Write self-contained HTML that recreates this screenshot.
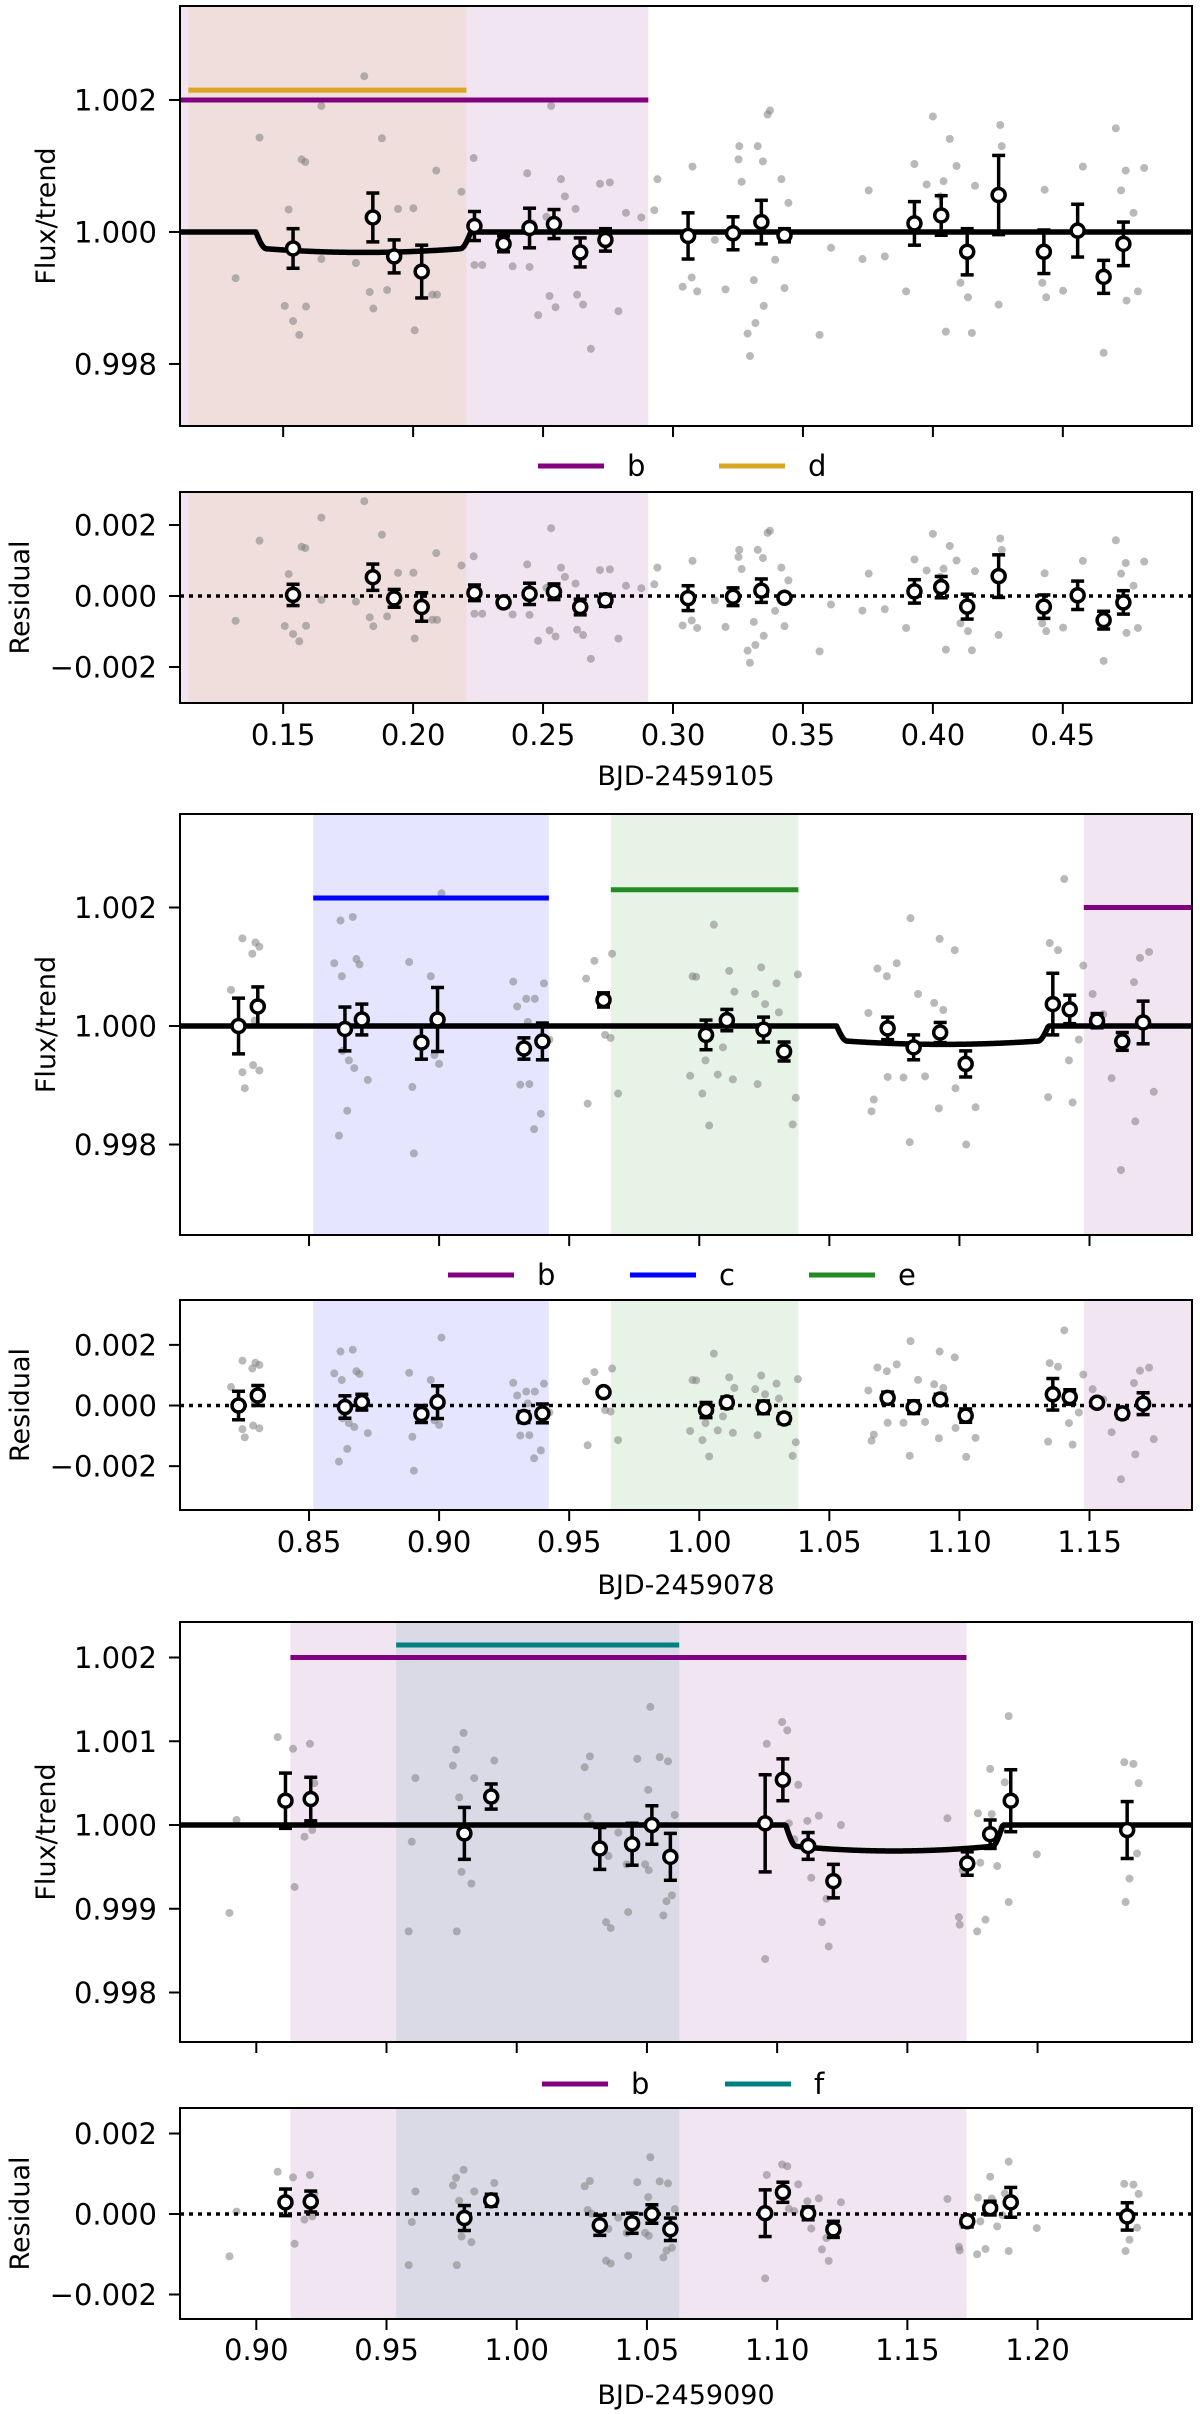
<!DOCTYPE html>
<html><head><meta charset="utf-8"><title>Transit light curves</title>
<style>
html,body{margin:0;padding:0;background:#fff;}
svg{display:block;font-family:"DejaVu Sans","Liberation Sans",sans-serif;}
</style></head>
<body>
<svg id="fig" width="1200" height="2414" viewBox="0 0 1200 2414" xmlns="http://www.w3.org/2000/svg"></svg>
<script>
// ---------- Panel 1 data (BJD-2459105) ----------
const p1RawX = [0.1317,0.1409,0.1521,0.1506,0.1538,0.1562,0.1588,0.1571,0.1585,0.1647,0.1647,0.1780,0.1812,0.1833,0.1847,0.1880,0.1900,0.1942,0.2001,0.2006,0.2074,0.2092,0.2089,0.2186,0.2233,0.2236,0.2266,0.2439,0.2460,0.2383,0.2448,0.2481,0.2513,0.2531,0.2525,0.2548,0.2569,0.2584,0.2625,0.2631,0.2654,0.2684,0.2719,0.2757,0.2790,0.2819,0.2878,0.2928,0.2940,0.3037,0.3075,0.3072,0.3093,0.3161,0.3202,0.3252,0.3255,0.3264,0.3296,0.3317,0.3287,0.3326,0.3346,0.3311,0.3349,0.3364,0.3373,0.3393,0.3417,0.3429,0.3444,0.3564,0.3608,0.3753,0.3729,0.3815,0.3897,0.3929,0.3976,0.4000,0.4029,0.4041,0.4065,0.4050,0.4091,0.4106,0.4150,0.4162,0.4135,0.4253,0.4259,0.4265,0.4430,0.4421,0.4436,0.4501,0.4577,0.4657,0.4704,0.4724,0.4742,0.4745,0.4789,0.4813,0.4772];
const p1RawY = [0.99930,1.00143,1.00034,0.99888,0.99865,0.99844,0.99887,1.00110,1.00106,1.00191,0.99959,0.99953,1.00236,0.99909,0.99884,1.00142,0.99912,1.00035,1.00036,0.99851,0.99905,0.99905,1.00093,1.00061,1.00112,0.99950,0.99950,1.00089,1.00013,0.99948,0.99947,0.99874,1.00023,1.00191,0.99903,0.99886,1.00080,1.00054,1.00035,0.99905,0.99890,0.99823,1.00073,1.00075,0.99880,1.00029,1.00022,1.00033,1.00080,0.99917,1.00099,0.99931,0.99910,0.99988,0.99913,1.00110,1.00130,1.00076,0.99812,0.99862,0.99846,1.00130,1.00107,0.99927,0.99888,1.00178,1.00184,0.99958,1.00080,0.99915,1.00044,0.99844,0.99976,1.00063,0.99959,0.99963,0.99910,1.00103,1.00072,1.00175,1.00054,1.00077,1.00141,0.99849,1.00100,0.99923,0.99847,1.00070,0.99901,0.99890,1.00162,1.00130,1.00064,0.99923,0.99901,0.99911,1.00099,0.99817,1.00157,1.00063,1.00093,0.99896,0.99910,1.00097,1.00029];
const p1BinX = [0.1538,0.1845,0.1927,0.2033,0.2236,0.2348,0.2448,0.2542,0.2643,0.2740,0.3058,0.3231,0.3340,0.3429,0.3929,0.4032,0.4132,0.4253,0.4427,0.4557,0.4657,0.4733];
const p1BinY = [0.99975,1.00022,0.99963,0.99940,1.00009,0.99982,1.00006,1.00012,0.99969,0.99988,0.99994,0.99998,1.00015,0.99995,1.00013,1.00025,0.99970,1.00056,0.99970,1.00002,0.99932,0.99982];
const p1BinErr = [0.00030,0.00037,0.00025,0.00040,0.00022,0.00012,0.00030,0.00022,0.00022,0.00017,0.00035,0.00025,0.00033,0.00010,0.00033,0.00030,0.00035,0.00060,0.00033,0.00040,0.00025,0.00033];
const p1Transits = [0.1395,0.2222];
const p1Depth = 0.00031;
const p1Planets = ["b","d"];
const p1PlanetStart = [0.1040,0.1135];
const p1PlanetEnd = [0.2905,0.2205];
const p1XTicks = [0.15,0.20,0.25,0.30,0.35,0.40,0.45];
const p1XTickLabels = ["0.15","0.20","0.25","0.30","0.35","0.40","0.45"];
const p1YTicks = [0.998,1.000,1.002];
const p1YTickLabels = ["0.998","1.000","1.002"];

// ---------- Panel 2 data (BJD-2459078) ----------
const p2RawX = [0.8200,0.8244,0.8253,0.8282,0.8294,0.8309,0.8291,0.8285,0.8309,0.8244,0.8621,0.8668,0.8597,0.8682,0.8694,0.8626,0.8615,0.8647,0.8653,0.8674,0.8726,0.8629,0.8897,0.8885,0.8903,0.8968,0.9009,0.8982,0.9000,0.9285,0.9335,0.9300,0.9368,0.9403,0.9312,0.9347,0.9391,0.9365,0.9424,0.9341,0.9571,0.9565,0.9597,0.9665,0.9659,0.9688,0.9638,1.0056,0.9974,0.9988,1.0012,1.0038,1.0115,1.0135,1.0091,1.0071,0.9965,1.0024,1.0129,1.0215,1.0238,1.0253,1.0297,1.0359,1.0371,1.0379,1.0306,1.0224,1.0650,1.0685,1.0721,1.0759,1.0662,1.0671,1.0724,1.0785,1.0812,1.0841,1.0868,1.0924,1.0982,1.0921,1.1026,1.1062,1.0809,1.0985,1.0903,1.0938,1.1347,1.1379,1.1341,1.1435,1.1403,1.1476,1.1512,1.1553,1.1585,1.1671,1.1694,1.1729,1.1676,1.1621,1.1747,1.1421,1.1459];
const p2RawY = [1.00061,1.00148,0.99895,1.00122,1.00141,1.00134,1.00009,0.99934,0.99925,0.99922,1.00178,1.00184,1.00106,1.00113,1.00104,1.00084,0.99815,0.99857,0.99942,0.99929,0.99909,0.99958,0.99897,1.00108,0.99785,1.00084,1.00224,0.99951,0.99936,1.00075,1.00046,1.00033,1.00046,1.00072,0.99901,0.99902,0.99852,0.99826,0.99977,1.00007,0.99869,1.00080,1.00110,1.00122,0.99980,0.99886,0.99985,1.00171,1.00084,1.00083,0.99886,0.99832,1.00093,1.00058,0.99964,0.99918,0.99916,0.99942,0.99910,1.00054,1.00099,1.00037,1.00072,0.99834,0.99879,1.00087,1.00023,0.99902,1.00022,1.00097,1.00084,1.00106,0.99856,0.99876,0.99914,0.99913,1.00182,1.00054,0.99915,1.00147,1.00128,0.99861,0.99800,0.99863,0.99804,0.99895,1.00039,1.00027,1.00140,1.00128,0.99880,0.99871,1.00248,1.00102,1.00054,1.00020,0.99912,1.00074,1.00115,1.00125,0.99839,0.99757,0.99889,0.99942,0.99977];
const p2BinX = [0.8229,0.8303,0.8638,0.8703,0.8932,0.8994,0.9326,0.9397,0.9632,1.0026,1.0106,1.0247,1.0326,1.0724,1.0824,1.0926,1.1024,1.1359,1.1424,1.1529,1.1626,1.1706];
const p2BinY = [1.00000,1.00033,0.99995,1.00011,0.99972,1.00011,0.99962,0.99974,1.00044,0.99985,1.00010,0.99994,0.99957,0.99996,0.99964,0.99989,0.99936,1.00037,1.00028,1.00009,0.99974,1.00006];
const p2BinErr = [0.00047,0.00033,0.00037,0.00026,0.00028,0.00054,0.00018,0.00031,0.00012,0.00025,0.00018,0.00021,0.00016,0.00019,0.00021,0.00017,0.00022,0.00052,0.00024,0.00012,0.00015,0.00036];
const p2Transits = [1.0528,1.1342];
const p2Depth = 0.00031;
const p2Planets = ["b","c","e"];
const p2PlanetStart = [1.1478,0.8516,0.9660];
const p2PlanetEnd = [1.2000,0.9422,1.0381];
const p2XTicks = [0.85,0.90,0.95,1.00,1.05,1.10,1.15];
const p2XTickLabels = ["0.85","0.90","0.95","1.00","1.05","1.10","1.15"];
const p2YTicks = [0.998,1.000,1.002];
const p2YTickLabels = ["0.998","1.000","1.002"];

// ---------- Panel 3 data (BJD-2459090) ----------
const p3RawX = [0.8897,0.8924,0.9082,0.9141,0.9147,0.9185,0.9206,0.9223,0.9215,0.9585,0.9597,0.9611,0.9767,0.9755,0.9796,0.9779,0.9788,0.9826,0.9770,0.9837,0.9914,1.0261,1.0281,1.0272,1.0287,1.0343,1.0361,1.0352,1.0390,1.0428,1.0422,1.0463,1.0513,1.0505,1.0549,1.0581,1.0563,1.0575,1.0596,1.0607,1.0493,1.0507,1.0954,1.0960,1.1019,1.1039,1.1045,1.1081,1.1116,1.1160,1.1172,1.1198,1.1245,1.1131,1.1189,1.1066,1.1698,1.1654,1.1701,1.1712,1.1768,1.1800,1.1818,1.1824,1.1889,1.1889,1.1874,1.1845,1.1771,1.1997,1.2333,1.2368,1.2388,1.2382,1.2353,1.2338,1.1780,1.1865];
const p3RawY = [0.99895,1.00006,1.00105,1.00091,0.99926,0.99986,1.00097,1.00050,0.99994,0.99873,0.99980,1.00056,1.00090,1.00071,1.00110,1.00033,0.99944,0.99930,0.99873,1.00056,1.00077,1.00069,1.00082,1.00010,1.00001,0.99884,0.99877,0.99963,0.99991,0.99896,0.99953,1.00079,1.00141,1.00042,1.00081,1.00076,0.99892,0.99909,0.99916,1.00012,0.99953,0.99946,0.99840,1.00097,1.00123,1.00113,1.00002,1.00048,1.00005,1.00011,0.99884,0.99855,1.00000,0.99937,0.99912,0.99983,0.99890,1.00008,0.99881,0.99946,0.99873,0.99887,1.00067,1.00013,1.00130,0.99908,1.00051,0.99951,1.00014,0.99965,1.00075,1.00073,1.00050,0.99966,0.99936,0.99908,0.99955,0.99996];
const p3BinX = [0.9112,0.9209,0.9799,0.9902,1.0319,1.0443,1.0519,1.0590,1.0954,1.1022,1.1119,1.1216,1.1730,1.1818,1.1897,1.2344];
const p3BinY = [1.00029,1.00031,0.99990,1.00034,0.99972,0.99977,1.00000,0.99962,1.00002,1.00054,0.99975,0.99933,0.99954,0.99989,1.00029,0.99994];
const p3BinErr = [0.00033,0.00026,0.00031,0.00015,0.00025,0.00025,0.00023,0.00028,0.00058,0.00025,0.00016,0.00020,0.00014,0.00017,0.00037,0.00034];
const p3Transits = [1.1033,1.1866];
const p3Depth = 0.00031;
const p3Planets = ["b","f"];
const p3PlanetStart = [0.9131,0.9537];
const p3PlanetEnd = [1.1727,1.0624];
const p3XTicks = [0.90,0.95,1.00,1.05,1.10,1.15,1.20];
const p3XTickLabels = ["0.90","0.95","1.00","1.05","1.10","1.15","1.20"];
const p3YTicks = [0.998,0.999,1.000,1.001,1.002];
const p3YTickLabels = ["0.998","0.999","1.000","1.001","1.002"];

const residTicks = [-0.002,0.000,0.002];
const residTickLabels = ["\u22120.002","0.000","0.002"];

const planetColor = {b:"#800080", c:"#0000ff", d:"#daa520", e:"#228b22", f:"#008080"};
const planetLineY = {b:1.002, c:1.00216, d:1.00215, e:1.0023, f:1.00215};

const NS = "http://www.w3.org/2000/svg";
const svg = document.getElementById("fig");
function mk(tag, attrs, parent){
  const e = document.createElementNS(NS, tag);
  for (const k in attrs) e.setAttribute(k, attrs[k]);
  (parent||svg).appendChild(e);
  return e;
}

function model(t, tr, depth){
  const t1 = tr[0], t2 = tr[1], w = 0.004;
  if (t <= t1 || t >= t2) return 1;
  const mid = (t1+t2)/2, half = (t2-t1)/2;
  const u = (t-mid)/half;
  let d = depth*(1 - 0.22*u*u);
  const e = Math.min(t-t1, t2-t) / w;
  if (e < 1) d *= Math.sin(e*Math.PI/2);
  return 1 - d;
}

const panels = [
 {id:"p1", rawX:p1RawX, rawY:p1RawY, binX:p1BinX, binY:p1BinY, binErr:p1BinErr, tr:p1Transits, depth:p1Depth,
  planets:p1Planets, pS:p1PlanetStart, pE:p1PlanetEnd, xt:p1XTicks, xtl:p1XTickLabels, yt:p1YTicks, ytl:p1YTickLabels,
  xlim:[0.1103,0.4997], top:6, bot:426, ylim:[0.99706,1.003424], rtop:492, rbot:703, rlim:[-0.003014,0.00293],
  legY:466, legX:[538,719], tickLabY:745, xlabY:785, xlabel:"BJD-2459105"},
 {id:"p2", rawX:p2RawX, rawY:p2RawY, binX:p2BinX, binY:p2BinY, binErr:p2BinErr, tr:p2Transits, depth:p2Depth,
  planets:p2Planets, pS:p2PlanetStart, pE:p2PlanetEnd, xt:p2XTicks, xtl:p2XTickLabels, yt:p2YTicks, ytl:p2YTickLabels,
  xlim:[0.8004,1.1894], top:814, bot:1235, ylim:[0.996473,1.003578], rtop:1300, rbot:1510, rlim:[-0.003446,0.00348],
  legY:1275, legX:[448,630,809], tickLabY:1552, xlabY:1594, xlabel:"BJD-2459078"},
 {id:"p3", rawX:p3RawX, rawY:p3RawY, binX:p3BinX, binY:p3BinY, binErr:p3BinErr, tr:p3Transits, depth:p3Depth,
  planets:p3Planets, pS:p3PlanetStart, pE:p3PlanetEnd, xt:p3XTicks, xtl:p3XTickLabels, yt:p3YTicks, ytl:p3YTickLabels,
  xlim:[0.8707,1.2593], top:1622, bot:2042, ylim:[0.997409,1.002424], rtop:2108, rbot:2319, rlim:[-0.002609,0.002634],
  legY:2084, legX:[542,725], tickLabY:2360, xlabY:2404, xlabel:"BJD-2459090"}
];

const L = 180, R = 1192;
const shadeColor = {b:"rgba(128,0,128,0.1)", c:"rgba(0,0,255,0.1)", d:"rgba(218,165,32,0.1)", e:"rgba(34,139,34,0.1)", f:"rgba(0,128,128,0.1)"};

panels.forEach(P => {
  const xs = v => L + (v-P.xlim[0])/(P.xlim[1]-P.xlim[0])*(R-L);
  const ys = v => P.bot - (v-P.ylim[0])/(P.ylim[1]-P.ylim[0])*(P.bot-P.top);
  const rs = v => P.rbot - (v-P.rlim[0])/(P.rlim[1]-P.rlim[0])*(P.rbot-P.rtop);
  const clampX = v => Math.max(L, Math.min(R, xs(v)));

  const g = mk("g", {});
  
  

  [["flux", P.top, P.bot], ["resid", P.rtop, P.rbot]].forEach(([kind, t, b]) => {
    const ax = mk("g", {}, g);
    
    
    const cid = P.id + kind + "clip";
    const cp = mk("clipPath", {id:cid}, ax);
    mk("rect", {x:L, y:t, width:R-L, height:b-t}, cp);
    const inner = mk("g", {"clip-path":"url(#"+cid+")"}, ax);
    P.planets.forEach((p,i) => {
      const r = mk("rect", {x:clampX(P.pS[i]), y:t, width:clampX(P.pE[i])-clampX(P.pS[i]), height:b-t, fill:shadeColor[p]}, inner);
      
      
    });
    P.rawX.forEach((x,i) => {
      const yv = kind==="flux" ? ys(P.rawY[i]) : rs(P.rawY[i]-model(x,P.tr,P.depth));
      const c = mk("circle", {cx:xs(x), cy:yv, r:4, fill:"rgba(128,128,128,0.55)"}, inner);
      
      
    });
    if (kind==="flux") {
      P.planets.forEach((p,i) => {
        const ln = mk("line", {x1:clampX(P.pS[i]), x2:clampX(P.pE[i]), y1:ys(planetLineY[p]), y2:ys(planetLineY[p]), stroke:planetColor[p], "stroke-width":5}, inner);
        
        
      });
      let d = "";
      const n = 800;
      for (let k=0;k<=n;k++){
        const x = P.xlim[0] + (P.xlim[1]-P.xlim[0])*k/n;
        d += (k?"L":"M") + xs(x).toFixed(2) + "," + ys(model(x,P.tr,P.depth)).toFixed(2);
      }
      const m = mk("path", {d:d, fill:"none", stroke:"#000", "stroke-width":5.5, "stroke-linejoin":"round"}, inner);
      
      
    } else {
      const zl = mk("line", {x1:L, x2:R, y1:rs(0), y2:rs(0), stroke:"#000", "stroke-width":3.5, "stroke-dasharray":"4,5"}, inner);
      
      
    }
    P.binX.forEach((x,i) => {
      const yv = kind==="flux" ? P.binY[i] : P.binY[i]-model(x,P.tr,P.depth);
      const sc = kind==="flux" ? ys : rs;
      const bg = mk("g", {}, inner);
      
      
      const cx = xs(x), y0 = sc(yv-P.binErr[i]), y1 = sc(yv+P.binErr[i]);
      mk("line", {x1:cx, x2:cx, y1:y0, y2:y1, stroke:"#000", "stroke-width":3.5}, bg);
      mk("line", {x1:cx-6.5, x2:cx+6.5, y1:y0, y2:y0, stroke:"#000", "stroke-width":3.5}, bg);
      mk("line", {x1:cx-6.5, x2:cx+6.5, y1:y1, y2:y1, stroke:"#000", "stroke-width":3.5}, bg);
      mk("circle", {cx:cx, cy:sc(yv), r:6.5, fill:"#fff", stroke:"#000", "stroke-width":3.5}, bg);
    });
    const fr = mk("rect", {x:L, y:t, width:R-L, height:b-t, fill:"none", stroke:"#000", "stroke-width":2}, ax);
    
    
    const tv = kind==="flux" ? P.yt : residTicks;
    const tl = kind==="flux" ? P.ytl : residTickLabels;
    const sc = kind==="flux" ? ys : rs;
    tv.forEach((v,i) => {
      mk("line", {x1:L-11, x2:L, y1:sc(v), y2:sc(v), stroke:"#000", "stroke-width":2}, ax);
      const tx = mk("text", {x:157, y:sc(v)+10.5, "text-anchor":"end", "font-size":29, fill:"#000"}, ax);
      tx.textContent = tl[i];
      
      
    });
    P.xt.forEach((v,i) => {
      mk("line", {x1:xs(v), x2:xs(v), y1:b, y2:b+11, stroke:"#000", "stroke-width":2}, ax);
      if (kind==="resid") {
        const tx = mk("text", {x:xs(v), y:P.tickLabY, "text-anchor":"middle", "font-size":29, fill:"#000"}, ax);
        tx.textContent = P.xtl[i];
        
        
      }
    });
    const cx = kind==="flux" ? 46 : 20;
    const cy = (t+b)/2;
    const yl = mk("text", {x:cx, y:cy, "text-anchor":"middle", "font-size":27, fill:"#000", transform:"rotate(-90 "+cx+" "+cy+") translate(0 9)"}, ax);
    yl.textContent = kind==="flux" ? "Flux/trend" : "Residual";
    
    
  });

  const lg = mk("g", {}, g);
  
  
  P.planets.forEach((p,i) => {
    const x0 = P.legX[i];
    const le = mk("g", {}, lg);
    
    
    mk("line", {x1:x0, x2:x0+66, y1:P.legY, y2:P.legY, stroke:planetColor[p], "stroke-width":5}, le);
    const t = mk("text", {x:x0+89, y:P.legY+10, "font-size":29, fill:"#000"}, le);
    t.textContent = p;
  });

  const xl = mk("text", {x:(L+R)/2, y:P.xlabY, "text-anchor":"middle", "font-size":27, fill:"#000"}, g);
  xl.textContent = P.xlabel;
  
  
});
</script>
</body></html>
